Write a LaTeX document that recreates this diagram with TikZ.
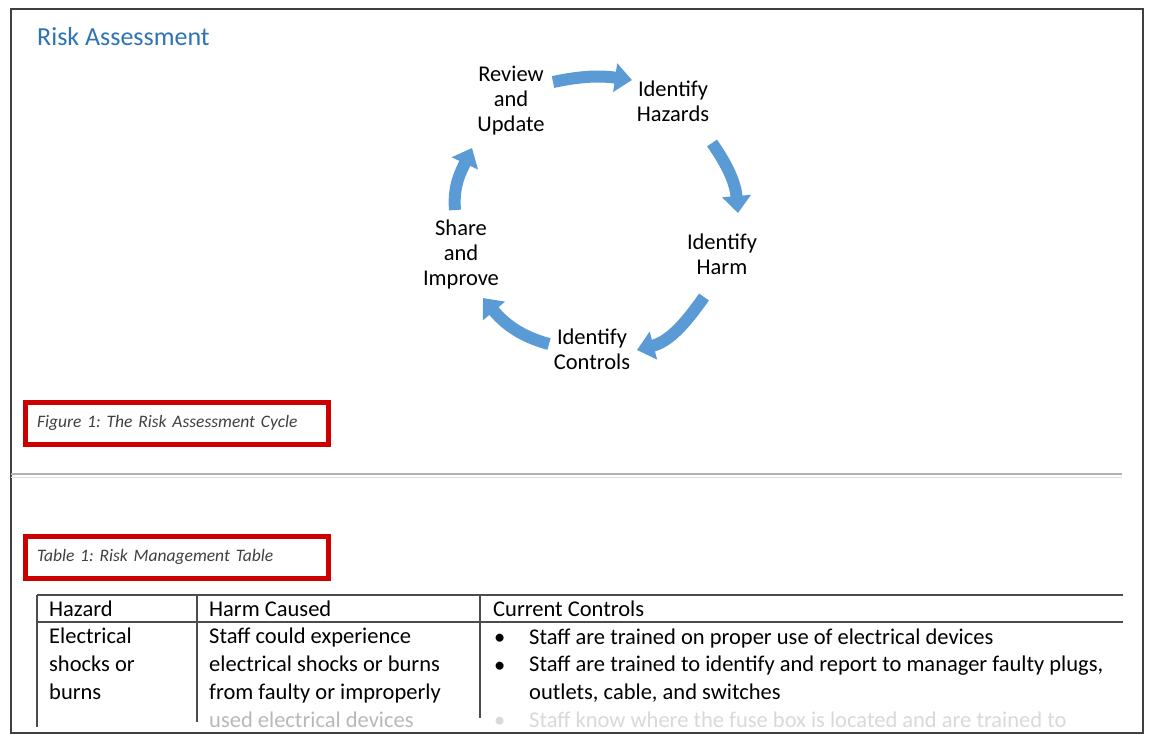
\documentclass[tikz,border=0pt]{standalone}
\usepackage{fontspec}
\setmainfont{Carlito}
\usetikzlibrary{arrows.meta}
\definecolor{cycblue}{HTML}{5B9BD5}
\definecolor{titleblue}{HTML}{2E74B5}
\definecolor{capgray}{HTML}{404040}
\definecolor{boxred}{HTML}{CC0000}

\begin{document}
\begin{tikzpicture}[x=1pt, y=1pt,
    cyc/.style={draw=cycblue, line width=12pt, -{Triangle[width=28pt,length=17pt]}},
    stage/.style={align=center, inner sep=0pt, font=\fontsize{22.5}{25}\selectfont},
    cell/.style={anchor=base west, align=left, inner sep=0pt, font=\fontsize{22.5}{27.7}\selectfont},
    capbox/.style={draw=boxred, line width=5pt, minimum width=303pt, minimum height=42pt,
        text width=279pt, inner xsep=12pt, align=left, text=capgray,
        font=\fontsize{17.5}{19}\selectfont\itshape\frenchspacing}]

\useasboundingbox (0,0) rectangle (1149,-734);
\fill[white] (0,0) rectangle (1149,-734);
\draw[black!75, line width=2pt] (11,-9) rectangle (1143,-733);

\node[anchor=base west, inner sep=0pt, text=titleblue, font=\fontsize{26}{30}\selectfont] (title) at (37,-45) {Risk Assessment};

\node[stage] (review) at (511,-101) {Review\\and\\Update};
\node[stage] (hazards) at (673,-101.5) {Identify\\Hazards};
\node[stage] (harm) at (722,-254.5) {Identify\\Harm};
\node[stage] (controls) at (592,-349.5) {Identify\\Controls};
\node[stage] (share) at (461,-254) {Share\\and\\Improve};

\draw[cyc] ([shift={(42,19)}]review.center) to[out=12, in=172] ([shift={(-41,21.5)}]hazards.center);
\draw[cyc] ([shift={(39,-41.5)}]hazards.center) to[out=-55, in=95] ([shift={(16,41.5)}]harm.center);
\draw[cyc] ([shift={(-18,-42.5)}]harm.center) to[out=-125, in=15] ([shift={(45,-0.5)}]controls.center);
\draw[cyc] ([shift={(-43,5.5)}]controls.center) to[out=165, in=-50] ([shift={(22,-44)}]share.center);
\draw[cyc] ([shift={(-6,44)}]share.center) to[out=95, in=-115] ([shift={(-39,-47)}]review.center);

\node[capbox] (figcap) at (176.5,-423) {Figure 1: The Risk Assessment Cycle};

\draw[gray!60, line width=1.2pt] (11,-474) -- (1122,-474);
\draw[gray!25, line width=1pt] (11,-477) -- (1122,-477);

\node[capbox] (tabcap) at (176.5,-557) {Table 1: Risk Management Table};

\draw[black!70, line width=1.1pt] (37,-595) -- (1123,-595);
\draw[black!70, line width=1.1pt] (37,-622) -- (1123,-622);
\draw[black!70, line width=1.1pt] (37,-595) -- (37,-727);
\draw[black!70, line width=1.1pt] (197,-595) -- (197,-722);
\draw[black!70, line width=1.1pt] (480,-595) -- (480,-718);

\node[cell] (hazardhead) at (49,-616) {Hazard};
\node[cell] (harmhead) at (209,-616) {Harm Caused};
\node[cell] (ctrlhead) at (493,-616) {Current Controls};

\node[cell] (hazardtxt) at (49,-699) {Electrical\\shocks or\\burns};
\node[cell] (harmtxt) at (209,-699) {Staff could experience\\electrical shocks or burns\\from faulty or improperly};
\node[cell, text=gray!55] (harmlast) at (209,-727) {used electrical devices};

\node[cell] (dota) at (494,-644) {\textbullet};
\node[cell] (dotb) at (494,-672) {\textbullet};
\node[cell, text=gray!30] (dotc) at (494,-727) {\textbullet};
\node[cell] (ctrla) at (529,-644) {Staff are trained on proper use of electrical devices};
\node[cell] (ctrlb) at (529,-699) {Staff are trained to identify and report to manager faulty plugs,\\outlets, cable, and switches};
\node[cell, text=gray!30] (ctrlc) at (529,-727) {Staff know where the fuse box is located and are trained to};

\end{tikzpicture}
\end{document}
